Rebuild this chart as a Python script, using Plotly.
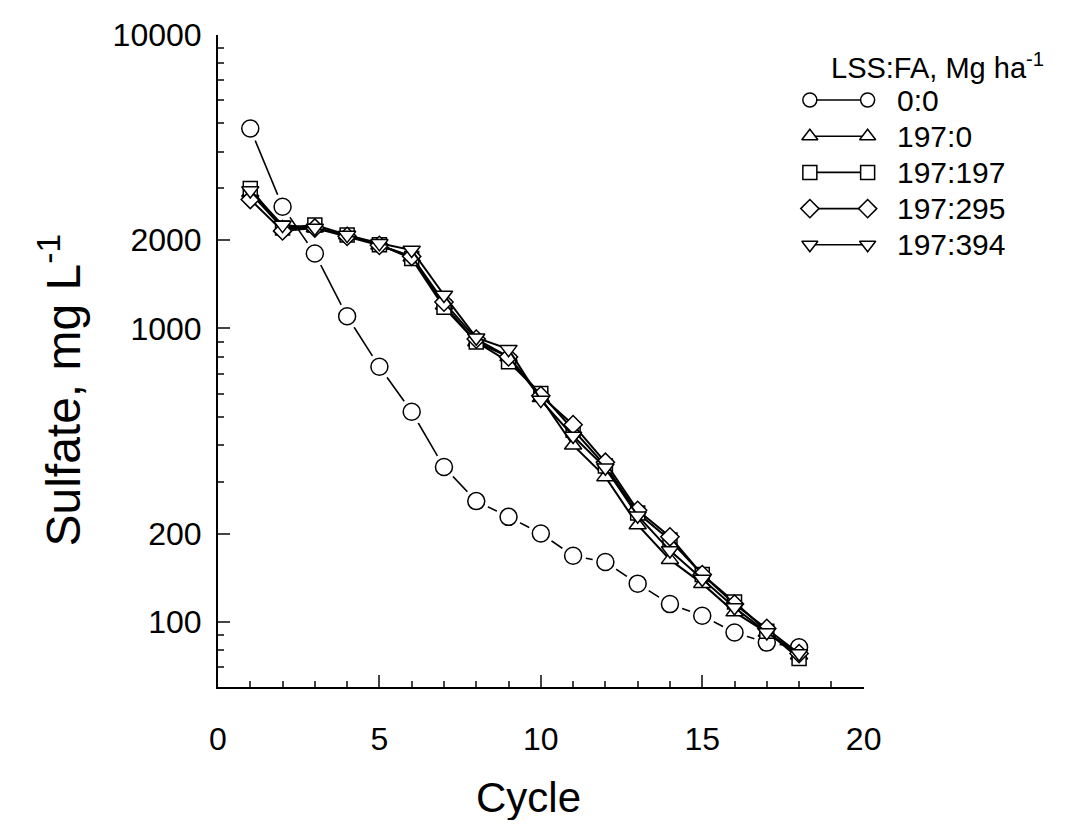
import math
import plotly.graph_objects as go

# --- data ---
cycle = list(range(1, 19))

s_0_0 = [4800, 2600, 1800, 1100, 740, 520, 337, 258, 228, 200, 168, 160, 135, 115, 105, 92, 85, 82]
s_197_0 = [2900, 2200, 2200, 2080, 1920, 1750, 1200, 900, 800, 580, 400, 312, 214, 163, 135, 108, 92, 77]
s_197_197 = [3000, 2200, 2250, 2080, 1930, 1730, 1180, 900, 770, 600, 450, 340, 235, 190, 145, 117, 93, 75]
s_197_295 = [2750, 2150, 2200, 2060, 1920, 1760, 1230, 920, 800, 590, 470, 350, 240, 195, 145, 115, 95, 78]
s_197_394 = [2950, 2250, 2200, 2080, 1950, 1850, 1300, 930, 850, 570, 430, 335, 230, 175, 140, 112, 92, 78]

labels = ["0:0", "197:0", "197:197", "197:295", "197:394"]
values = [s_0_0, s_197_0, s_197_197, s_197_295, s_197_394]
symbols = ["circle", "triangle-up", "square", "diamond", "triangle-down"]
sizes = [17, 15, 14, 14, 15]

x_ticks = [0, 5, 10, 15, 20]
y_ticks = [100, 200, 1000, 2000, 10000]
y_minor = [70, 80, 90, 300, 400, 500, 600, 700, 800, 900,
           3000, 4000, 5000, 6000, 7000, 8000, 9000]

FONT = "Liberation Sans, Arial, sans-serif"
OFF = 8                      # page body margin around the plot div
SCROLL = 15                  # width lost to the page scrollbar
W, H = 1056, 812
# plot box in page pixels
BOX_L, BOX_R, BOX_T, BOX_B = 218, 866, 35, 687
ML, MT = BOX_L - OFF, BOX_T - OFF
MB = H - (BOX_B - OFF)
MR = 4
PW, PH = W - SCROLL - ML - MR, H - MT - MB


def px(page_x):
    return (page_x - OFF - ML) / PW


def py(page_y):
    return 1 - (page_y - OFF - MT) / PH


fig = go.Figure()

for i, (name, vals, sym, sz) in enumerate(zip(labels, values, symbols, sizes)):
    lw = 1.6 if i == 0 else 2
    fig.add_trace(go.Scatter(x=cycle, y=vals, mode="lines", name=name,
                             line=dict(color="black", width=lw),
                             hoverinfo="skip", showlegend=False))
    if i == 0:
        # white halo so the line stops short of the circles
        fig.add_trace(go.Scatter(x=cycle, y=vals, mode="markers",
                                 marker=dict(symbol=sym, size=sz, color="white",
                                             line=dict(color="white", width=9)),
                                 hoverinfo="skip", showlegend=False))
    fig.add_trace(go.Scatter(x=cycle, y=vals, mode="markers", name=name,
                             marker=dict(symbol=sym, size=sz, color="white",
                                         line=dict(color="black", width=1.5)),
                             showlegend=False))

# --- hand-drawn style legend on a page-pixel helper axis ---
leg_x0, leg_x1, leg_text_x = 812, 870, 897
leg_y0, leg_gap = 100, 36.2
for i, (name, sym) in enumerate(zip(labels, symbols)):
    yy = leg_y0 + i * leg_gap
    fig.add_trace(go.Scatter(x=[leg_x0, leg_x1], y=[yy, yy], mode="lines+markers",
                             xaxis="x2", yaxis="y2",
                             line=dict(color="black", width=1.6),
                             marker=dict(symbol=sym, size=14, color="white",
                                         line=dict(color="black", width=1.5)),
                             hoverinfo="skip", showlegend=False))
    fig.add_annotation(x=leg_text_x, y=yy, xref="x2", yref="y2", text=name,
                       showarrow=False, xanchor="left", yanchor="middle",
                       font=dict(family=FONT, size=30, color="black"))

fig.add_annotation(x=px(940), y=py(66), xref="paper", yref="paper",
                   text="LSS:FA, Mg ha<sup>-1</sup>", showarrow=False,
                   xanchor="center", yanchor="middle",
                   font=dict(family=FONT, size=29, color="black"))

# axis titles placed as in the original figure
fig.add_annotation(x=px(530), y=py(797), xref="paper", yref="paper",
                   text="Cycle", showarrow=False, xanchor="center", yanchor="middle",
                   font=dict(family=FONT, size=42, color="black"))
fig.add_annotation(x=px(59), y=py(390), xref="paper", yref="paper",
                   text="Sulfate, mg L<sup>-1</sup>", showarrow=False, textangle=-90,
                   xanchor="center", yanchor="middle",
                   font=dict(family=FONT, size=48, color="black"))

main_frac = (BOX_R - BOX_L) / PW

fig.update_layout(
    width=W, height=H,
    margin=dict(l=ML, r=MR, t=MT, b=MB),
    paper_bgcolor="white",
    plot_bgcolor="rgba(0,0,0,0)",
    showlegend=False,
    font=dict(family=FONT, color="black"),
    xaxis=dict(
        domain=[0, main_frac], range=[0, 20],
        tickvals=x_ticks, ticks="inside", ticklen=12, tickwidth=2,
        minor=dict(dtick=1, ticks="inside", ticklen=6, tickwidth=1.5, showgrid=False),
        showline=True, linecolor="black", linewidth=2,
        showgrid=False, zeroline=False,
        tickfont=dict(size=32), ticklabelstandoff=23,
    ),
    yaxis=dict(
        type="log", range=[math.log10(60), 4],
        tickvals=y_ticks, ticktext=[str(v) for v in y_ticks],
        ticks="inside", ticklen=12, tickwidth=2,
        minor=dict(tickvals=y_minor, ticks="inside", ticklen=6, tickwidth=1.5, showgrid=False),
        showline=True, linecolor="black", linewidth=2,
        showgrid=False, zeroline=False,
        tickfont=dict(size=32), ticklabelstandoff=8,
    ),
    xaxis2=dict(domain=[0, 1], range=[BOX_L, BOX_L + PW], anchor="y2", visible=False),
    yaxis2=dict(domain=[0, 1], range=[BOX_B, BOX_T], anchor="x2", visible=False),
)

fig.write_html("out.html")
